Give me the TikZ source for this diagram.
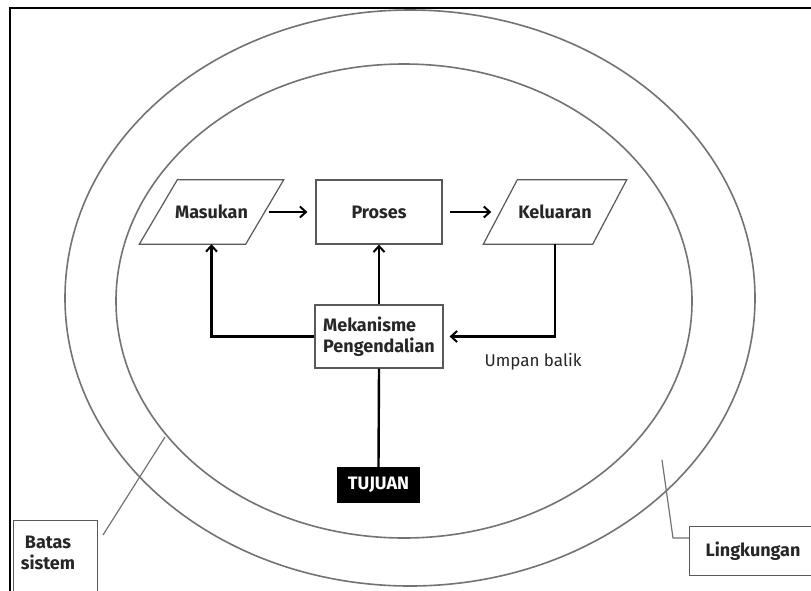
\documentclass[tikz,border=0pt]{standalone}
\usepackage{fontspec}
\setmainfont{Fira Sans}
\usetikzlibrary{arrows.meta}
\begin{document}
\begin{tikzpicture}[x=1pt,y=-1pt,
  lbl/.style={font=\fontsize{18}{21}\selectfont\bfseries,text=black!85},
  box/.style={lbl,draw=black!65,line width=1.2pt,fill=white,inner sep=2pt},
  plain/.style={lbl,inner sep=2pt},
  outl/.style={draw=black!65,line width=1.2pt},
  arr/.style={line width=2.4pt,-{Straight Barb[length=6pt,width=11pt,line width=2pt]}},
  conn/.style={line width=2.4pt},
  ring/.style={draw=black!55,line width=1.6pt},
  lead/.style={draw=black!55,line width=1.2pt}]
\useasboundingbox (0,0) rectangle (811,590);
\fill[white] (0,0) rectangle (811,590);
\draw[line width=2.6pt,black] (10,592) -- (10,8) -- (812,8);
\draw[ring] (410,298) ellipse [x radius=345, y radius=288];
\draw[ring] (404,301) ellipse [x radius=288, y radius=237];

\node[plain,minimum width=106pt,minimum height=64pt] (mas) at (211.5,212) {Masukan};
\draw[outl] ([xshift=19pt]mas.north west) -- ([xshift=19pt]mas.north east) -- ([xshift=-19pt]mas.south east) -- ([xshift=-19pt]mas.south west) -- cycle;
\node[box,minimum width=126pt,minimum height=64pt] (pro) at (379,212) {Proses};
\node[plain,minimum width=109pt,minimum height=64pt] (kel) at (555,212) {Keluaran};
\draw[outl] ([xshift=17pt]kel.north west) -- ([xshift=17pt]kel.north east) -- ([xshift=-17pt]kel.south east) -- ([xshift=-17pt]kel.south west) -- cycle;
\node[box,minimum width=128pt,minimum height=63pt,align=left] (mek) at (379,336.5) {Mekanisme\\Pengendalian};
\node[fill=black,text=white,minimum width=83pt,minimum height=36pt,inner sep=0pt,font=\fontsize{18}{21}\selectfont\bfseries] (tuj) at (378.5,485) {TUJUAN};
\node[font=\fontsize{17}{20}\selectfont,text=black!85] (umb) at (533,362) {Umpan balik};

\draw[arr,shorten <=4pt,shorten >=8pt] (mas.east) -- (pro.west);
\draw[arr,shorten <=7pt,shorten >=9pt] (pro.east) -- (kel.west);
\draw[arr] (mek.west) -| (mas.south);
\draw[arr] (mek.north) -- (pro.south);
\draw[arr,shorten >=6pt] (kel.south) |- (mek.east);
\draw[conn] (mek.south) -- (tuj.north);

\node[box,minimum width=84pt,minimum height=78pt,anchor=north west] (bat) at (13,520) {};
\node[lbl,align=center] (battxt) at (48,553) {Batas\\sistem};
\node[box,minimum width=135pt,minimum height=49pt,anchor=north west] (lin) at (689,526) {};
\node[lbl] (lintxt) at (753,551) {Lingkungan};
\coordinate (b1) at (103,535);
\coordinate (b2) at (165,437);
\draw[lead] (b1) -- (b2);
\coordinate (l1) at (662,460);
\coordinate (l2) at (673,538);
\draw[lead] (l1) -- (l2) -- (lin.west |- l2);
\end{tikzpicture}
\end{document}
